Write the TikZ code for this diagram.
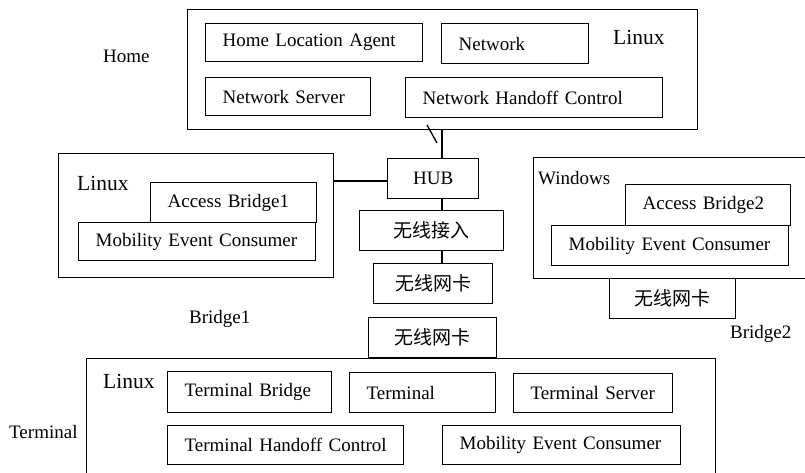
\documentclass[tikz,border=0pt]{standalone}
\usepackage{fontspec}
\setmainfont{Liberation Serif}
\newfontfamily\cjkfont{Noto Sans CJK SC}
\begin{document}
\begin{tikzpicture}[x=1pt,y=-1pt,
  every node/.style={font=\fontsize{19}{22}\selectfont},
  hostframe/.style={draw, line width=1.3pt, anchor=north west, inner sep=0pt},
  lbox/.style={draw, line width=1.3pt, anchor=north west, align=left,
    inner xsep=17pt, inner ysep=0pt},
  cbox/.style={draw, line width=1.3pt, anchor=north west, align=center,
    inner sep=0pt},
  oslabel/.style={font=\fontsize{21.5}{24}\selectfont, inner sep=0pt, anchor=base west},
  sitelabel/.style={inner sep=0pt, anchor=base west},
  wire/.style={line width=1.3pt}]

% page area
\clip (0,0) rectangle (805,473);
\fill[white] (0,0) rectangle (805,473);

% ---- Home host ----
\node[hostframe, minimum width=510pt, minimum height=120pt] (home) at (187,9) {};
\node[lbox, text width=183pt, minimum height=38pt] (hla) at (205,23) {Home Location Agent};
\node[lbox, text width=113pt, minimum height=40pt] (network) at (441,23) {Network};
\node[lbox, text width=131pt, minimum height=38pt] (nserver) at (205,77) {Network Server};
\node[lbox, text width=223pt, minimum height=40pt] (nhc) at (405,77) {Network Handoff Control};
\node[oslabel] (homeos) at (613,45) {Linux};
\node[sitelabel] (homelbl) at (103,63) {Home};

% ---- Bridge1 host ----
\node[hostframe, minimum width=275pt, minimum height=124pt] (bridge1) at (58,153) {};
\node[oslabel] (b1os) at (77,190) {Linux};
\node[lbox, text width=132pt, minimum height=40pt] (ab1) at (150,182) {Access Bridge1};
\node[lbox, text width=203pt, minimum height=38pt] (mec1) at (78,222) {Mobility Event Consumer};
\node[sitelabel] (b1lbl) at (189,323) {Bridge1};

% ---- central chain ----
\node[cbox, minimum width=91pt, minimum height=40pt] (hub) at (387,158) {HUB};
\node[cbox, minimum width=144pt, minimum height=40pt] (access) at (359,210) {\cjkfont 无线接入};
\node[cbox, minimum width=119pt, minimum height=40pt] (nic1) at (373,263) {\cjkfont 无线网卡};
\node[cbox, minimum width=128pt, minimum height=40pt] (nic2) at (368,317) {\cjkfont 无线网卡};

% ---- Bridge2 host ----
\node[hostframe, minimum width=300pt, minimum height=121pt] (bridge2) at (533,157) {};
\node[sitelabel] (b2os) at (538,185) {Windows};
\node[lbox, text width=131pt, minimum height=41pt] (ab2) at (625,184) {Access Bridge2};
\node[lbox, text width=203pt, minimum height=40pt] (mec2) at (551,225) {Mobility Event Consumer};
\node[cbox, minimum width=126pt, minimum height=40pt] (nic3) at (609,278) {\cjkfont 无线网卡};
\node[sitelabel] (b2lbl) at (730,338) {Bridge2};

% ---- Terminal host ----
\node[hostframe, minimum width=629pt, minimum height=140pt] (term) at (86,358) {};
\node[oslabel] (termos) at (103,388) {Linux};
\node[lbox, text width=130pt, minimum height=41pt] (tbridge) at (167,371) {Terminal Bridge};
\node[lbox, text width=112pt, minimum height=40pt] (terminal) at (349,372) {Terminal};
\node[lbox, text width=125pt, minimum height=39pt] (tserver) at (513,373) {Terminal Server};
\node[lbox, text width=202pt, minimum height=39pt] (thc) at (167,425) {Terminal Handoff Control};
\node[lbox, text width=204pt, minimum height=39pt] (mec3) at (442,425) {Mobility Event Consumer};
\node[sitelabel] (termlbl) at (9,438) {Terminal};

% ---- connectors ----
\coordinate (bus) at (442,0);
\coordinate (link) at (0,181);
\coordinate (tickA) at (427,125);
\coordinate (tickB) at (437,143);
\draw[wire] (home.south -| bus) -- (hub.north -| bus);
\draw[wire] (hub.south -| bus) -- (access.north -| bus);
\draw[wire] (access.south -| bus) -- (nic1.north -| bus);
\draw[wire] (bridge1.east |- link) -- (hub.west |- link);
\draw[wire] (tickA) -- (tickB);
\end{tikzpicture}
\end{document}
